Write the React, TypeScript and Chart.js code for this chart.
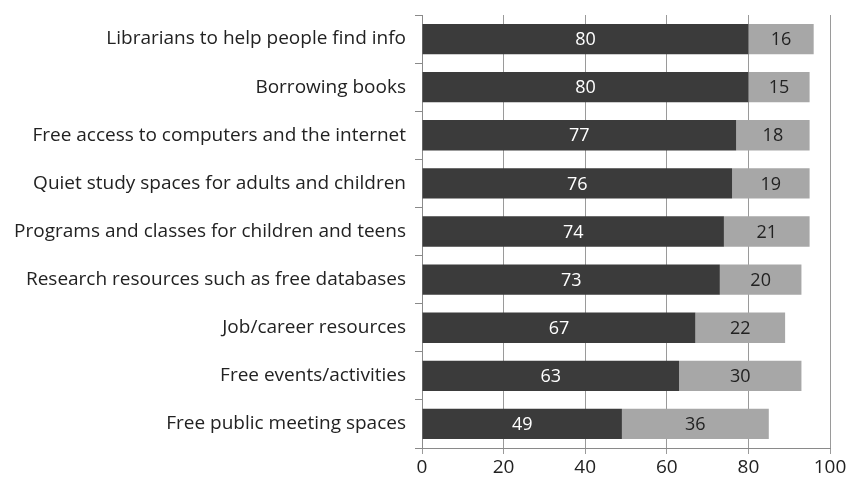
import React, { useEffect, useRef } from "react";
import { Chart, registerables } from "chart.js";

Chart.register(...registerables);

const categories = [
  "Librarians to help people find info",
  "Borrowing books",
  "Free access to computers and the internet",
  "Quiet study spaces for adults and children",
  "Programs and classes for children and teens",
  "Research resources such as free databases",
  "Job/career resources",
  "Free events/activities",
  "Free public meeting spaces",
];
const darkValues = [80, 80, 77, 76, 74, 73, 67, 63, 49];
const lightValues = [16, 15, 18, 19, 21, 20, 22, 30, 36];
const xTicks = [0, 20, 40, 60, 80, 100];

const FONT = "'Open Sans', sans-serif";

const labelPlugin = {
  id: "segLabels",
  afterDatasetsDraw(chart: any) {
    const ctx = chart.ctx;
    ctx.save();
    ctx.font = `18px ${FONT}`;
    ctx.textAlign = "center";
    ctx.textBaseline = "middle";
    chart.data.datasets.forEach((ds: any, di: number) => {
      const meta = chart.getDatasetMeta(di);
      meta.data.forEach((bar: any, i: number) => {
        const cx = (bar.x + bar.base) / 2;
        ctx.fillStyle = di === 0 ? "#ffffff" : "#222222";
        ctx.fillText(String(ds.data[i]), cx, bar.y + 1);
      });
    });
    ctx.restore();
  },
};

export default function App() {
  const ref = useRef<HTMLCanvasElement>(null);
  useEffect(() => {
    document.body.style.margin = "0";
    const chart = new Chart(ref.current!, {
      type: "bar",
      data: {
        labels: categories,
        datasets: [
          { data: darkValues, backgroundColor: "#3b3b3b", categoryPercentage: 1, barPercentage: 0.63 },
          { data: lightValues, backgroundColor: "#a7a7a7", categoryPercentage: 1, barPercentage: 0.63 },
        ],
      },
      options: {
        indexAxis: "y",
        responsive: false,
        animation: false,
        layout: { padding: { top: 15, right: 19, left: 0, bottom: 0 } },
        plugins: { legend: { display: false }, tooltip: { enabled: false } },
        scales: {
          x: {
            stacked: true,
            min: 0,
            max: 100,
            afterBuildTicks: (s: any) => { s.ticks = xTicks.map((v) => ({ value: v })); },
            afterFit: (s: any) => { s.height = 36; },
            grid: { color: "#9a9a9a", tickLength: 6, drawTicks: true },
            border: { color: "#8a8a8a" },
            ticks: { color: "#222", font: { family: FONT, size: 19 }, padding: 2, maxRotation: 0 },
          },
          y: {
            stacked: true,
            afterFit: (s: any) => { s.width = 422; s.paddingTop = 0; s.paddingBottom = 0; },
            grid: { drawOnChartArea: false, tickLength: 7, color: "#8a8a8a" },
            border: { color: "#8a8a8a" },
            ticks: { color: "#222", font: { family: FONT, size: 19 }, padding: 9 },
          },
        },
      },
      plugins: [labelPlugin],
    });
    return () => chart.destroy();
  }, []);
  return (
    <div style={{ width: 849, height: 484 }}>
      <canvas ref={ref} width={849} height={484} style={{ display: "block" }} />
    </div>
  );
}
